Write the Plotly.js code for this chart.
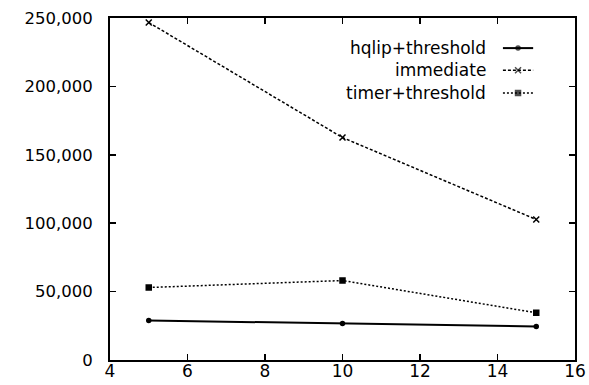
<!DOCTYPE html>
<html><head><meta charset="utf-8">
<script src="https://cdn.plot.ly/plotly-3.0.1.min.js"></script>
<style>html,body{margin:0;padding:0;background:#fff}#c{width:589px;height:385px}</style>
</head><body><div id="c"></div>
<script>
const xVals = [5, 10, 15];
const hqlip = [28900, 26700, 24500];
const immediate = [246700, 162600, 102700];
const timer = [53000, 58100, 34500];
const seriesNames = ["hqlip+threshold", "immediate", "timer+threshold"];
const yTicks = [0, 50000, 100000, 150000, 200000, 250000];
const yTickText = ["0", "50,000", "100,000", "150,000", "200,000", "250,000"];
const xTicks = [4, 6, 8, 10, 12, 14, 16];

const styles = [
  {dash: "solid", width: 2, symbol: "circle", size: 4},
  {dash: "3px,2px", width: 1.5, symbol: "x-thin-open", size: 6},
  {dash: "2px,2px", width: 1.5, symbol: "square", size: 5}
];
const data = [hqlip, immediate, timer];
const traces = data.map((ys, i) => ({
  x: xVals, y: ys, type: "scatter", mode: "lines+markers", showlegend: false,
  line: {color: "#000", width: styles[i].width, dash: styles[i].dash},
  marker: {color: "#000", symbol: styles[i].symbol, size: styles[i].size, line: {color: "#000", width: 1.5}}
}));
// legend samples (text left, line right, gnuplot style)
const legY = [0.912, 0.847, 0.781];
const annotations = [];
seriesNames.forEach((n, i) => {
  traces.push({
    x: [0.845, 0.8775, 0.91], y: [legY[i], legY[i], legY[i]], xaxis: "x2", yaxis: "y2",
    type: "scatter", mode: "lines+markers", showlegend: false,
    line: {color: "#000", width: styles[i].width, dash: styles[i].dash},
    marker: {color: "#000", symbol: styles[i].symbol, size: [0, styles[i].size, 0], line: {color: "#000", width: 1.5}}
  });
  annotations.push({xref: "paper", yref: "paper", x: 0.813, y: legY[i], xanchor: "right", yanchor: "middle",
    text: n, showarrow: false, font: {family: "DejaVu Sans", size: 17, color: "#000"}});
});

const layout = {
  width: 589, height: 385,
  margin: {l: 110, r: 14, t: 18, b: 24.5},
  paper_bgcolor: "#fff", plot_bgcolor: "#fff",
  font: {family: "DejaVu Sans", size: 17, color: "#000"},
  showlegend: false,
  xaxis: {range: [4, 16], tickvals: xTicks, ticks: "inside", ticklen: 6, tickwidth: 1.5, tickcolor: "#000",
    showline: true, linewidth: 2, linecolor: "#000", mirror: "ticks", showgrid: false, zeroline: false,
    ticklabelstandoff: -5, tickfont: {family: "DejaVu Sans", size: 17}},
  yaxis: {range: [0, 250000], tickvals: yTicks, ticktext: yTickText, ticks: "inside", ticklen: 6, tickwidth: 1.5, tickcolor: "#000",
    showline: true, linewidth: 2, linecolor: "#000", mirror: "ticks", showgrid: false, zeroline: false,
    ticklabelstandoff: 12, tickfont: {family: "DejaVu Sans", size: 16.5}},
  xaxis2: {overlaying: "x", range: [0, 1], visible: false, fixedrange: true},
  yaxis2: {overlaying: "y", range: [0, 1], visible: false, fixedrange: true},
  annotations: annotations
};
Plotly.newPlot("c", traces, layout, {staticPlot: true, displayModeBar: false});
</script></body></html>
